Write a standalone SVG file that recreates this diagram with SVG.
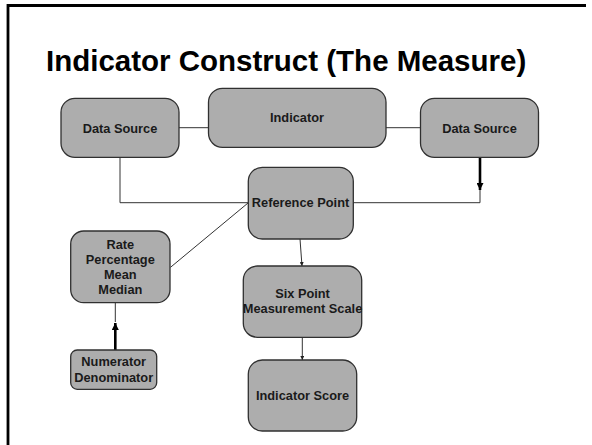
<svg xmlns="http://www.w3.org/2000/svg" width="592" height="445" viewBox="0 0 592 445">
<defs>
<style>
.box{fill:#ADADAD;stroke:#303030;stroke-width:1.3}
.lbl{font-family:"Liberation Sans",Arial,sans-serif;font-weight:bold;font-size:12.8px;fill:#1a1a1a;text-anchor:middle}
.ln{fill:none;stroke:#333;stroke-width:1}
.thick{fill:none;stroke:#000;stroke-width:2.6}
</style>
<marker id="ah" viewBox="0 0 10 10" refX="10" refY="5" markerWidth="4" markerHeight="4" orient="auto" markerUnits="userSpaceOnUse"><path d="M0,0 L10,5 L0,10 z" fill="#222"/></marker>
<marker id="ahb" viewBox="0 0 10 10" refX="10" refY="5" markerWidth="7" markerHeight="7" orient="auto" markerUnits="userSpaceOnUse"><path d="M0,0 L10,5 L0,10 z" fill="#000"/></marker>
</defs>
<rect width="592" height="445" fill="#fff"/>
<path d="M8,445 V5.5 H586" fill="none" stroke="#000" stroke-width="2.8"/>
<text x="46" y="71" font-family="'Liberation Sans',Arial,sans-serif" font-weight="bold" font-size="29.5" fill="#000">Indicator Construct (The Measure)</text>
<g id="connectors">
<line class="ln" x1="179" y1="127.7" x2="208.5" y2="127.7"/>
<line class="ln" x1="386" y1="127.7" x2="420.5" y2="127.7"/>
<polyline class="ln" points="120,157 120,202.7 248,202.7"/>
<polyline class="ln" points="353,202.7 480,202.7 480,190"/>
<line class="thick" x1="480" y1="158" x2="480" y2="190" marker-end="url(#ahb)"/>
<line class="ln" x1="248" y1="203" x2="170.5" y2="267.3"/>
<line class="ln" x1="300" y1="239" x2="302" y2="266" marker-end="url(#ah)"/>
<line class="ln" x1="302.3" y1="337.3" x2="302.3" y2="360" marker-end="url(#ah)"/>
<line class="ln" x1="115.3" y1="303" x2="115.3" y2="322"/>
<line class="thick" x1="115.3" y1="350" x2="115.3" y2="323" marker-end="url(#ahb)"/>
</g>
<g id="ds-left"><rect class="box" x="61" y="98.3" width="118" height="59" rx="14"/><text class="lbl" x="120" y="132.7">Data Source</text></g>
<g id="indicator"><rect class="box" x="208.5" y="88.3" width="177.5" height="59" rx="14"/><text class="lbl" x="297" y="121.7">Indicator</text></g>
<g id="ds-right"><rect class="box" x="420.5" y="98.3" width="118" height="59" rx="14"/><text class="lbl" x="479.5" y="132.7">Data Source</text></g>
<g id="reference"><rect class="box" x="248.3" y="167.3" width="105" height="71.7" rx="14"/><text class="lbl" x="300.5" y="207.3">Reference Point</text></g>
<g id="rate"><rect class="box" x="70.7" y="231" width="99.3" height="71.7" rx="13"/><text class="lbl" x="120.3" y="249.3">Rate</text><text class="lbl" x="120.3" y="264.3">Percentage</text><text class="lbl" x="120.3" y="279.3">Mean</text><text class="lbl" x="120.3" y="294.3">Median</text></g>
<g id="sixpoint"><rect class="box" x="243.3" y="266" width="118.4" height="71.3" rx="14"/><text class="lbl" x="302.5" y="298.3">Six Point</text><text class="lbl" x="302.5" y="313.3">Measurement Scale</text></g>
<g id="numerator"><rect class="box" x="70.7" y="350" width="86" height="39.3" rx="6.5"/><text class="lbl" x="113.7" y="365.7">Numerator</text><text class="lbl" x="113.7" y="381.7">Denominator</text></g>
<g id="score"><rect class="box" x="248.3" y="360" width="108.4" height="71" rx="14"/><text class="lbl" x="302.5" y="400">Indicator Score</text></g>
</svg>
